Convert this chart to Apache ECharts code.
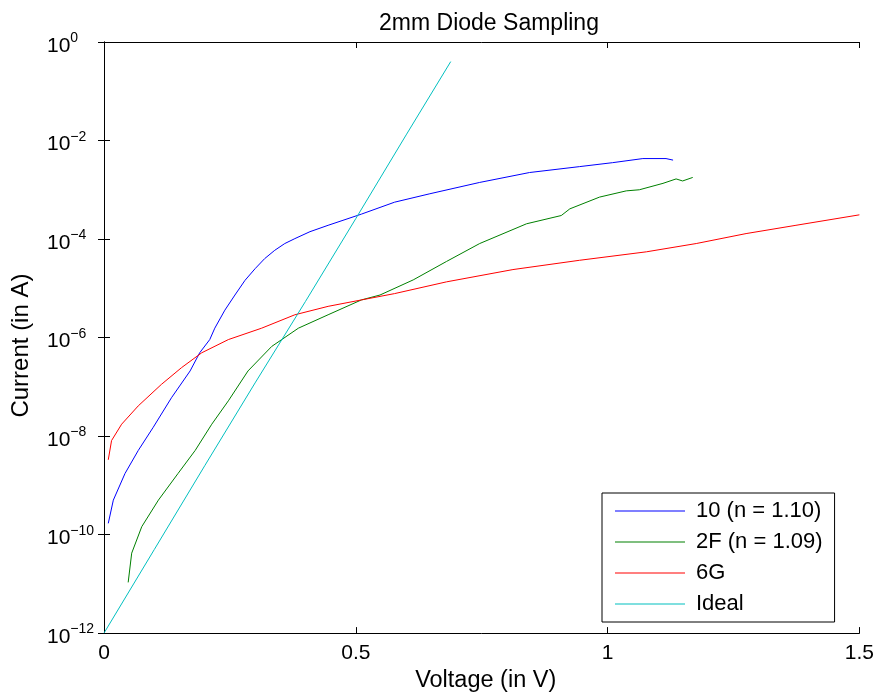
<!DOCTYPE html>
<html>
<head>
<meta charset="utf-8">
<script src="https://cdn.jsdelivr.net/npm/echarts@6/dist/echarts.min.js"></script>
<style>html,body{margin:0;padding:0;background:#fff}#c{width:877px;height:698px}</style>
</head>
<body>
<div id="c"></div>
<script>
const seriesNames = ['10 (n = 1.10)', '2F (n = 1.09)', '6G', 'Ideal'];

const v10 = [0.0085,0.0185,0.0417,0.068,0.0978,0.134,0.171,0.190,0.210,0.220,0.240,0.260,0.280,0.300,0.319,0.339,0.359,0.379,0.409,0.445,0.511,0.577,0.647,0.746,0.845,0.944,1.010,1.070,1.116,1.130];
const i10 = [1.69e-10,5.0e-10,1.74e-9,5.1e-9,1.51e-8,6.0e-8,2.1e-7,4.9e-7,9.1e-7,1.55e-6,3.6e-6,7.3e-6,1.45e-5,2.5e-5,4.0e-5,5.9e-5,8.1e-5,1.02e-4,1.41e-4,1.9e-4,3.2e-4,5.6e-4,8.3e-4,1.41e-3,2.24e-3,2.95e-3,3.55e-3,4.3e-3,4.3e-3,4.0e-3];

const v2F = [0.048,0.055,0.075,0.108,0.147,0.181,0.214,0.247,0.286,0.333,0.386,0.445,0.511,0.548,0.614,0.680,0.746,0.839,0.908,0.925,0.984,1.037,1.063,1.110,1.136,1.149,1.169];
const i2F = [1.07e-11,4.2e-11,1.45e-10,5.0e-10,1.74e-9,5.1e-9,1.74e-8,5.2e-8,2.1e-7,6.6e-7,1.55e-6,2.9e-6,5.8e-6,7.3e-6,1.48e-5,3.5e-5,8.1e-5,2.04e-4,3.0e-4,4.1e-4,7.1e-4,9.5e-4,1.0e-3,1.35e-3,1.66e-3,1.51e-3,1.78e-3];

const v6G = [0.0085,0.015,0.035,0.068,0.114,0.154,0.194,0.247,0.313,0.379,0.445,0.511,0.577,0.680,0.812,0.944,1.077,1.176,1.275,1.374,1.500];
const i6G = [3.3e-9,8.1e-9,1.74e-8,4.1e-8,1.12e-7,2.45e-7,4.9e-7,9.1e-7,1.55e-6,2.9e-6,4.3e-6,5.8e-6,7.8e-6,1.35e-5,2.4e-5,3.7e-5,5.5e-5,8.1e-5,1.29e-4,1.9e-4,3.1e-4];

const vIdeal = [0.0,0.1,0.2,0.3,0.4,0.5,0.6,0.6885];
const iIdeal = [1e-12,5.0e-11,2.5e-9,1.2e-7,5.4e-6,2.6e-4,1.3e-2,4.0e-1];

const xTicks = [0, 0.5, 1, 1.5];

const colors = ['#0000ff', '#008000', '#ff0000', '#00bfbf'];

function pairs(xs, ys) { return xs.map((x, k) => [x, ys[k]]); }

const chart = echarts.init(document.getElementById('c'));
const font = 'Liberation Sans, Arial, sans-serif';

const yLabel = {
  show: true, margin: 57, align: 'left', fontFamily: font, color: '#000',
  formatter: function (v) {
    const e = Math.round(Math.log10(v));
    const es = e < 0 ? '\u2212' + (-e) : String(e);
    return '{b|10}{s|' + es + '}';
  },
  rich: {
    b: {fontSize: 21, lineHeight: 21, fontFamily: font, color: '#000', verticalAlign: 'top', padding: [4, 0, 6, 0]},
    s: {fontSize: 14, lineHeight: 14, fontFamily: font, color: '#000', verticalAlign: 'top'}
  }
};

const tick = {inside: true, length: 6, lineStyle: {color: '#000'}};
const line = {show: true, lineStyle: {color: '#000', width: 1}};

chart.setOption({
  animation: false,
  backgroundColor: '#fff',
  title: {
    text: '2mm Diode Sampling', left: 484, top: 7, textAlign: 'center',
    textStyle: {fontFamily: font, fontSize: 23, fontWeight: 'normal', color: '#000'}
  },
  grid: {left: 104, right: 17, top: 42, bottom: 61},
  legend: {
    data: seriesNames, orient: 'vertical', left: 602, top: 493,
    icon: 'rect', itemWidth: 70, itemHeight: 1.2, itemGap: 9,
    padding: [7, 12, 7, 13],
    backgroundColor: '#fff', borderColor: '#000', borderWidth: 1,
    textStyle: {fontFamily: font, fontSize: 22, lineHeight: 22, color: '#000', padding: [0, 0, 0, 6]}
  },
  xAxis: [{
    type: 'value', min: xTicks[0], max: xTicks[xTicks.length - 1], interval: 0.5,
    name: 'Voltage (in V)', nameLocation: 'middle', nameGap: 35,
    nameTextStyle: {fontFamily: font, fontSize: 23.5, color: '#000', padding: [0, 0, 0, 8]},
    axisLine: line, axisTick: tick,
    axisLabel: {fontFamily: font, fontSize: 21, color: '#000', margin: 10},
    splitLine: {show: false}
  }, {
    type: 'value', position: 'top', min: 0, max: 1.5, interval: 0.5,
    axisLine: line, axisTick: tick,
    axisLabel: {show: false}, splitLine: {show: false}
  }],
  yAxis: [{
    type: 'log', logBase: 10, min: 1e-12, max: 1, interval: 2,
    name: 'Current (in A)', nameLocation: 'middle', nameGap: 71, nameRotate: 90,
    nameTextStyle: {fontFamily: font, fontSize: 24, color: '#000', padding: [0, 16, 0, 0]},
    axisLine: line, axisTick: tick,
    axisLabel: yLabel,
    splitLine: {show: false}, minorTick: {show: false}
  }, {
    type: 'log', logBase: 10, min: 1e-12, max: 1, interval: 2, position: 'right',
    axisLine: line, axisTick: tick,
    axisLabel: {show: false}, splitLine: {show: false}
  }],
  series: [
    {name: seriesNames[0], type: 'line', symbol: 'none', data: pairs(v10, i10), lineStyle: {color: colors[0], width: 1}, itemStyle: {color: colors[0]}},
    {name: seriesNames[1], type: 'line', symbol: 'none', data: pairs(v2F, i2F), lineStyle: {color: colors[1], width: 1}, itemStyle: {color: colors[1]}},
    {name: seriesNames[2], type: 'line', symbol: 'none', data: pairs(v6G, i6G), lineStyle: {color: colors[2], width: 1}, itemStyle: {color: colors[2]}},
    {name: seriesNames[3], type: 'line', symbol: 'none', data: pairs(vIdeal, iIdeal), lineStyle: {color: colors[3], width: 1}, itemStyle: {color: colors[3]}}
  ]
});
</script>
</body>
</html>
